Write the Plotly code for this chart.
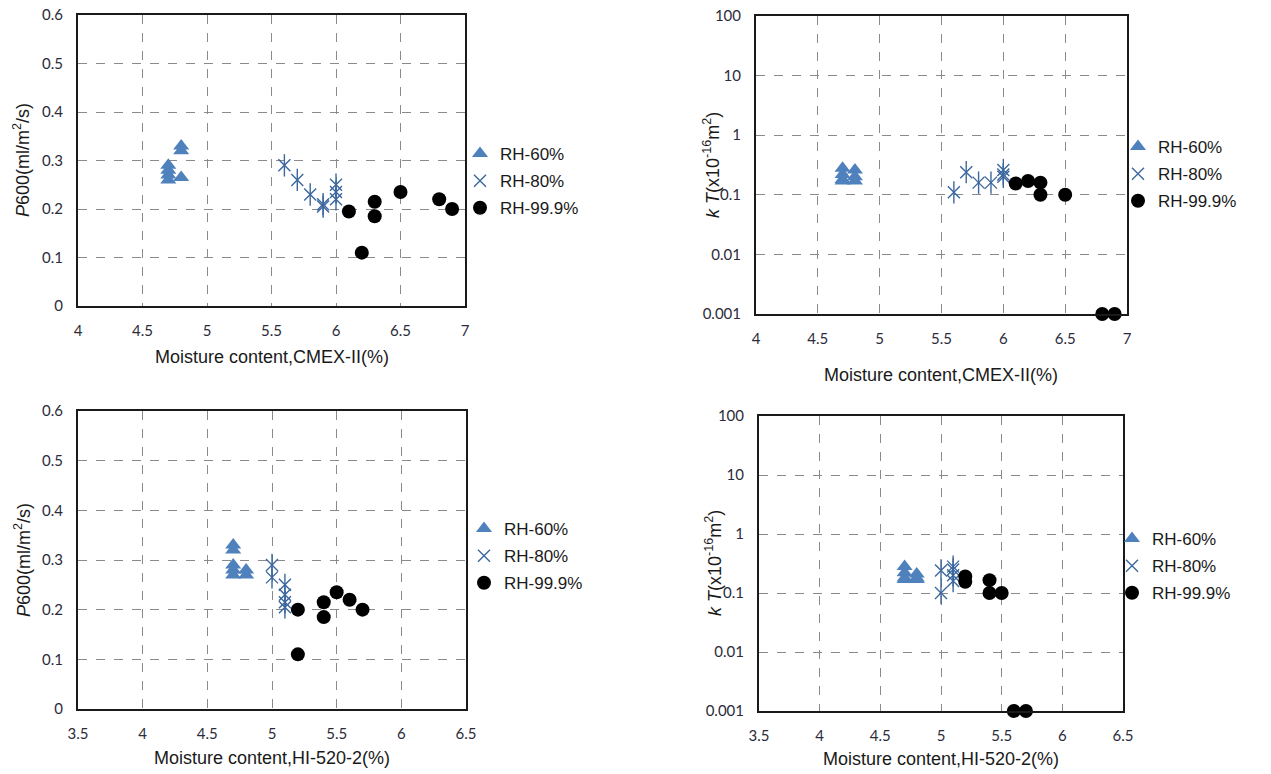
import plotly.graph_objects as go

# ---------------- data ----------------
# Panel 1: P600 vs moisture content CMEX-II
p1_rh60_x = [4.7, 4.7, 4.7, 4.7, 4.8, 4.8, 4.8]
p1_rh60_y = [0.26, 0.27, 0.28, 0.29, 0.32, 0.33, 0.265]
p1_rh80_x = [5.6, 5.7, 5.8, 5.9, 5.9, 6.0, 6.0, 6.0]
p1_rh80_y = [0.29, 0.26, 0.23, 0.205, 0.21, 0.25, 0.235, 0.22]
p1_rh99_x = [6.1, 6.3, 6.3, 6.2, 6.5, 6.8, 6.9]
p1_rh99_y = [0.195, 0.215, 0.185, 0.11, 0.235, 0.22, 0.2]

# Panel 2: kT vs moisture content CMEX-II (log)
p2_rh60_x = [4.7, 4.7, 4.7, 4.7, 4.8, 4.8, 4.8]
p2_rh60_y = [0.28, 0.22, 0.18, 0.17, 0.26, 0.2, 0.17]
p2_rh80_x = [5.6, 5.7, 5.8, 5.9, 6.0, 6.0, 6.0]
p2_rh80_y = [0.11, 0.24, 0.16, 0.16, 0.26, 0.22, 0.2]
p2_rh99_x = [6.1, 6.2, 6.3, 6.3, 6.5, 6.8, 6.9]
p2_rh99_y = [0.155, 0.17, 0.16, 0.1, 0.1, 0.001, 0.001]

# Panel 3: P600 vs moisture content HI-520-2
p3_rh60_x = [4.7, 4.7, 4.7, 4.7, 4.7, 4.8, 4.8]
p3_rh60_y = [0.33, 0.32, 0.29, 0.28, 0.27, 0.28, 0.27]
p3_rh80_x = [5.0, 5.0, 5.1, 5.1, 5.1, 5.1]
p3_rh80_y = [0.29, 0.265, 0.25, 0.23, 0.215, 0.205]
p3_rh99_x = [5.2, 5.2, 5.4, 5.4, 5.5, 5.6, 5.7]
p3_rh99_y = [0.2, 0.11, 0.215, 0.185, 0.235, 0.22, 0.2]

# Panel 4: kT vs moisture content HI-520-2 (log)
p4_rh60_x = [4.7, 4.7, 4.7, 4.7, 4.8, 4.8, 4.8]
p4_rh60_y = [0.28, 0.22, 0.18, 0.17, 0.21, 0.18, 0.17]
p4_rh80_x = [5.0, 5.0, 5.1, 5.1, 5.1, 5.1]
p4_rh80_y = [0.24, 0.1, 0.28, 0.25, 0.2, 0.16]
p4_rh99_x = [5.2, 5.2, 5.4, 5.4, 5.5, 5.6, 5.7]
p4_rh99_y = [0.19, 0.155, 0.165, 0.1, 0.1, 0.001, 0.001]

series_names = ["RH-60%", "RH-80%", "RH-99.9%"]
x_title_cmex = "Moisture content,CMEX-II(%)"
x_title_hi = "Moisture content,HI-520-2(%)"
y_title_p = "<i>P</i>600(ml/m<sup>2</sup>/s)"
y_title_k = "<i>k T</i>(x10<sup>-16</sup>m<sup>2</sup>)"
log_tickvals = [0.001, 0.01, 0.1, 1, 10, 100]
log_ticktext = ["0.001", "0.01", "0.1", "1", "10", "100"]

# ---------------- layout helpers ----------------
W, H = 1271, 774
BLUE = "#4F81BD"
STAR = "#3B679E"

def fx(px):
    return px / W

def fy(py):
    return 1 - py / H

def xd(a, b):
    return [fx(a), fx(b)]

def yd(top, bottom):
    return [fy(bottom), fy(top)]

panels = [
    dict(x=xd(78, 465), y=yd(15, 306), xr=[4, 7], log=False,
         data=(p1_rh60_x, p1_rh60_y, p1_rh80_x, p1_rh80_y, p1_rh99_x, p1_rh99_y),
         legend=(460, 136)),
    dict(x=xd(756, 1127), y=yd(16, 314), xr=[4, 7], log=True,
         data=(p2_rh60_x, p2_rh60_y, p2_rh80_x, p2_rh80_y, p2_rh99_x, p2_rh99_y),
         legend=(1118, 129)),
    dict(x=xd(78, 466), y=yd(411, 709), xr=[3.5, 6.5], log=False,
         data=(p3_rh60_x, p3_rh60_y, p3_rh80_x, p3_rh80_y, p3_rh99_x, p3_rh99_y),
         legend=(464, 511)),
    dict(x=xd(759, 1123), y=yd(416, 711), xr=[3.5, 6.5], log=True,
         data=(p4_rh60_x, p4_rh60_y, p4_rh80_x, p4_rh80_y, p4_rh99_x, p4_rh99_y),
         legend=(1112, 521)),
]

fig = go.Figure()
layout = dict(
    width=W, height=H,
    margin=dict(l=0, r=0, t=0, b=0, autoexpand=False),
    paper_bgcolor="white", plot_bgcolor="white",
    showlegend=True,
    font=dict(family="Liberation Sans, Arial", color="#1a1a1a"),
)

tick_font = dict(family="Lato, Open Sans", size=15, color="#2b2b3a")
grid_common = dict(showgrid=True, gridcolor="#8a8a8a", griddash="dash", gridwidth=1,
                   showline=True, linecolor="#1a1a1a", linewidth=2, mirror=True,
                   zeroline=False, ticks="", tickfont=tick_font, ticklabelstandoff=10,
                   automargin=False, ticklabeloverflow="allow")

annotations = []
for i, p in enumerate(panels, start=1):
    xa = "xaxis" if i == 1 else f"xaxis{i}"
    ya = "yaxis" if i == 1 else f"yaxis{i}"
    xref = "x" if i == 1 else f"x{i}"
    yref = "y" if i == 1 else f"y{i}"
    leg = "legend" if i == 1 else f"legend{i}"
    layout[xa] = dict(domain=p["x"], anchor=yref, range=p["xr"], dtick=0.5, **grid_common)
    if p["log"]:
        layout[ya] = dict(domain=p["y"], anchor=xref, type="log", range=[-3, 2],
                          tickvals=log_tickvals, ticktext=log_ticktext, **grid_common)
    else:
        layout[ya] = dict(domain=p["y"], anchor=xref, range=[0, 0.6], dtick=0.1,
                          tickformat=".1~f", **grid_common)
    lx, ly = p["legend"]
    layout[leg] = dict(x=fx(lx), y=fy(ly), xanchor="left", yanchor="top",
                       xref="paper", yref="paper", bgcolor="rgba(0,0,0,0)",
                       font=dict(family="Liberation Sans, Arial", size=17, color="#1a1a1a"),
                       tracegroupgap=2, itemwidth=30)

    x60, y60, x80, y80, x99, y99 = p["data"]
    fig.add_trace(go.Scatter(x=x60, y=y60, mode="markers", name=series_names[0],
                             xaxis=xref, yaxis=yref, legend=leg, legendgroup=f"a{i}",
                             cliponaxis=False,
                             marker=dict(symbol="triangle-up", size=14, color=BLUE,
                                         line=dict(width=0))))
    fig.add_trace(go.Scatter(x=x80, y=y80, mode="markers", name=series_names[1],
                             xaxis=xref, yaxis=yref, legend=leg, legendgroup=f"b{i}",
                             cliponaxis=False,
                             marker=dict(symbol="x-thin-open", size=12, color=STAR,
                                         line=dict(width=1.4, color=STAR))))
    fig.add_trace(go.Scatter(x=x80, y=y80, mode="markers", name=series_names[1],
                             xaxis=xref, yaxis=yref, legend=leg, legendgroup=f"b{i}",
                             showlegend=False, cliponaxis=False, hoverinfo="skip",
                             marker=dict(symbol="line-ns-open", size=16, color=STAR,
                                         line=dict(width=1.4, color=STAR))))
    fig.add_trace(go.Scatter(x=x99, y=y99, mode="markers", name=series_names[2],
                             xaxis=xref, yaxis=yref, legend=leg, legendgroup=f"c{i}",
                             cliponaxis=False,
                             marker=dict(symbol="circle", size=14, color="black",
                                         line=dict(width=0))))

# axis titles as annotations (pixel-positioned)
def ann(text, px, py, angle=0):
    annotations.append(dict(text=text, x=fx(px), y=fy(py), xref="paper", yref="paper",
                            xanchor="center", yanchor="middle", showarrow=False,
                            textangle=angle,
                            font=dict(family="Liberation Sans, Arial", size=18, color="#1a1a1a")))

ann(x_title_cmex, 272, 357)
ann(x_title_cmex, 941, 375)
ann(x_title_hi, 272, 758)
ann(x_title_hi, 941, 759)
ann(y_title_p, 22, 160, -90)
ann(y_title_k, 712, 165, -90)
ann(y_title_p, 22, 560, -90)
ann(y_title_k, 713, 563, -90)

layout["annotations"] = annotations
fig.update_layout(**layout)
# remove the default 8px page margin so the figure fills the window exactly
fig.write_html("out.html", config={"displayModeBar": False},
               post_script="document.body.style.margin='0';")
